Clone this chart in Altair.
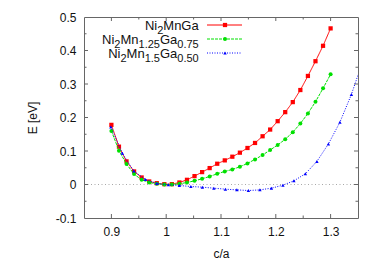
import altair as alt
import pandas as pd

# ---------------- data ----------------
series_names = ["Ni2MnGa", "Ni2Mn1.25Ga0.75", "Ni2Mn1.5Ga0.50"]
series_colors = ["#ff0000", "#00e000", "#0000ff"]

ca_fine = [0.9, 0.9138, 0.9276, 0.9414, 0.9552, 0.9690, 0.9828, 0.9966, 1.0103, 1.0241,
           1.0379, 1.0517, 1.0655, 1.0793, 1.0931, 1.1069, 1.1207, 1.1345, 1.1483, 1.1621,
           1.1759, 1.1897, 1.2034, 1.2172, 1.2310, 1.2448, 1.2586, 1.2724, 1.2862, 1.3]
e_ni2mnga = [0.178, 0.113, 0.069, 0.039, 0.021, 0.009, 0.004, 0.001, 0.001, 0.006,
             0.014, 0.025, 0.037, 0.049, 0.062, 0.072, 0.083, 0.095, 0.109, 0.124,
             0.144, 0.164, 0.189, 0.216, 0.246, 0.282, 0.324, 0.368, 0.414, 0.466]
e_mn125 = [0.160, 0.101, 0.061, 0.031, 0.014, 0.006, 0.002, 0.000, 0.000, 0.002,
           0.006, 0.011, 0.017, 0.024, 0.032, 0.039, 0.045, 0.053, 0.063, 0.075,
           0.088, 0.103, 0.118, 0.135, 0.156, 0.182, 0.212, 0.247, 0.287, 0.329]

ca_coarse = [0.899, 0.920, 0.941, 0.962, 0.983, 1.004, 1.024, 1.045, 1.066, 1.087,
             1.108, 1.129, 1.150, 1.171, 1.192, 1.213, 1.233, 1.254, 1.275, 1.296,
             1.317, 1.338, 1.359]
e_mn15 = [0.172, 0.093, 0.040, 0.015, 0.003, -0.001, -0.003, -0.006, -0.008, -0.011,
          -0.014, -0.016, -0.018, -0.016, -0.011, -0.002, 0.011, 0.032, 0.069, 0.121,
          0.186, 0.269, 0.370]

x_major = [0.9, 1.0, 1.1, 1.2, 1.3]
x_minor = [0.95, 1.05, 1.15, 1.25]
y_labels = [-0.1, 0, 0.1, 0.2, 0.3, 0.4, 0.5]
y_major = [0, 0.1, 0.2, 0.3, 0.4]
y_minor = [-0.05, 0.05, 0.15, 0.25, 0.35, 0.45]

# legend label text pieces: (text, is_subscript)
legend_parts = [
    [("Ni", False), ("2", True), ("MnGa", False)],
    [("Ni", False), ("2", True), ("Mn", False), ("1.25", True), ("Ga", False), ("0.75", True)],
    [("Ni", False), ("2", True), ("Mn", False), ("1.5", True), ("Ga", False), ("0.50", True)],
]

# ---------------- build table ----------------
rows = []
for c, e in zip(ca_fine, e_ni2mnga):
    rows.append({"ca": c, "E": e, "series": series_names[0]})
for c, e in zip(ca_fine, e_mn125):
    rows.append({"ca": c, "E": e, "series": series_names[1]})
for c, e in zip(ca_coarse, e_mn15):
    rows.append({"ca": c, "E": e, "series": series_names[2]})
df = pd.DataFrame(rows)

FONT = "Liberation Sans"
W, H = 274, 201
FRAME = "#666666"
TXT = "#111111"

xscale = alt.Scale(domain=[0.85, 1.35], nice=False, zero=False)
yscale = alt.Scale(domain=[-0.1, 0.5], nice=False, zero=False)
cscale = alt.Scale(domain=series_names, range=series_colors)

x_axis = alt.Axis(values=x_major, labelExpr="'' + datum.value", ticks=False, tickSize=0,
                  domain=False, grid=False, labelPadding=8, labelFont=FONT,
                  labelFontSize=12, labelColor=TXT, titleFont=FONT,
                  titleFontSize=12, titleFontWeight="normal", titleColor=TXT,
                  titleY=39, titleBaseline="alphabetic")
y_axis = alt.Axis(values=y_labels, labelExpr="'' + datum.value", ticks=False, tickSize=0,
                  domain=False, grid=False, labelPadding=8, labelFont=FONT,
                  labelFontSize=12, labelColor=TXT, titleFont=FONT,
                  titleFontSize=12, titleFontWeight="normal", titleColor=TXT,
                  titleX=-48, titleBaseline="alphabetic")


def X(field):
    return alt.X(field, scale=xscale, title="c/a", axis=x_axis)


def Y(field):
    return alt.Y(field, scale=yscale, title="E [eV]", axis=y_axis)


dashes = [[1, 0], [3, 1], [1, 1.5]]
shapes = ["square", "circle", "triangle-up"]
sizes = [18, 16, 12]

one = pd.DataFrame({"k": [0]})

layers = []

# zero line
layers.append(
    alt.Chart(pd.DataFrame({"z": [0.0]})).mark_rule(color="#a8a8a8", strokeDash=[1, 2.5], strokeWidth=1)
    .encode(y=Y("z:Q"))
)

# tick marks (inward)
def xticks(vals, length):
    d = pd.DataFrame({"v": vals})
    bot = alt.Chart(d).mark_rule(color=FRAME, strokeWidth=1).encode(
        x=X("v:Q"), y=alt.value(H), y2=alt.value(H - length))
    top = alt.Chart(d).mark_rule(color=FRAME, strokeWidth=1).encode(
        x=X("v:Q"), y=alt.value(0), y2=alt.value(length))
    return [bot, top]


def yticks(vals, length):
    d = pd.DataFrame({"v": vals})
    left = alt.Chart(d).mark_rule(color=FRAME, strokeWidth=1).encode(
        y=Y("v:Q"), x=alt.value(0), x2=alt.value(length))
    right = alt.Chart(d).mark_rule(color=FRAME, strokeWidth=1).encode(
        y=Y("v:Q"), x=alt.value(W), x2=alt.value(W - length))
    return [left, right]


layers += xticks(x_major, 4) + xticks(x_minor, 2.5) + yticks(y_major, 4) + yticks(y_minor, 2.5)

# data lines and points
for i, name in enumerate(series_names):
    sub = df[df["series"] == name]
    base = alt.Chart(sub)
    layers.append(
        base.mark_line(strokeWidth=1, strokeDash=dashes[i], clip=True).encode(
            x=X("ca:Q"), y=Y("E:Q"),
            color=alt.Color("series:N", scale=cscale, legend=None),
        )
    )
    layers.append(
        base.mark_point(shape=shapes[i], filled=True, size=sizes[i], opacity=1, clip=True).encode(
            x=X("ca:Q"), y=Y("E:Q"),
            color=alt.Color("series:N", scale=cscale, legend=None),
        )
    )

# manual legend (text on the left, sample on the right)
WIDTH_1000 = {"N": 722, "i": 222, "M": 833, "n": 556, "G": 778, "a": 556, ".": 278}
for dgt in "0123456789":
    WIDTH_1000[dgt] = 556
MAIN_FS, SUB_FS = 13, 11


def advance(s, fs):
    return sum(WIDTH_1000[ch] for ch in s) * fs / 1000.0


row_y = [8, 22, 36]
right_edge = 114.7
for i, parts in enumerate(legend_parts):
    total = sum(advance(t, SUB_FS if s else MAIN_FS) for t, s in parts)
    x = right_edge - total
    for text, is_sub in parts:
        fs = SUB_FS if is_sub else MAIN_FS
        layers.append(
            alt.Chart(one).mark_text(
                align="left", baseline="alphabetic", font=FONT,
                fontSize=fs, color=TXT,
            ).encode(
                x=alt.value(x),
                y=alt.value(row_y[i] + (8.5 if is_sub else 4.6)),
                text=alt.value(text),
            )
        )
        x += advance(text, fs)
    layers.append(
        alt.Chart(one).mark_rule(color=series_colors[i], strokeWidth=1, strokeDash=dashes[i]).encode(
            x=alt.value(123), x2=alt.value(158), y=alt.value(row_y[i])
        )
    )
    layers.append(
        alt.Chart(one).mark_point(shape=shapes[i], filled=True, size=sizes[i], opacity=1,
                                  color=series_colors[i]).encode(
            x=alt.value(141), y=alt.value(row_y[i])
        )
    )

chart = alt.layer(*layers).properties(
    width=W, height=H,
    autosize=alt.AutoSizeParams(type="none"),
    padding={"left": 76, "top": 9, "right": 8, "bottom": 44},
    background="white",
).configure_view(stroke=FRAME, strokeWidth=1)

chart.save("out.html", embed_options={"renderer": "svg", "actions": False})
